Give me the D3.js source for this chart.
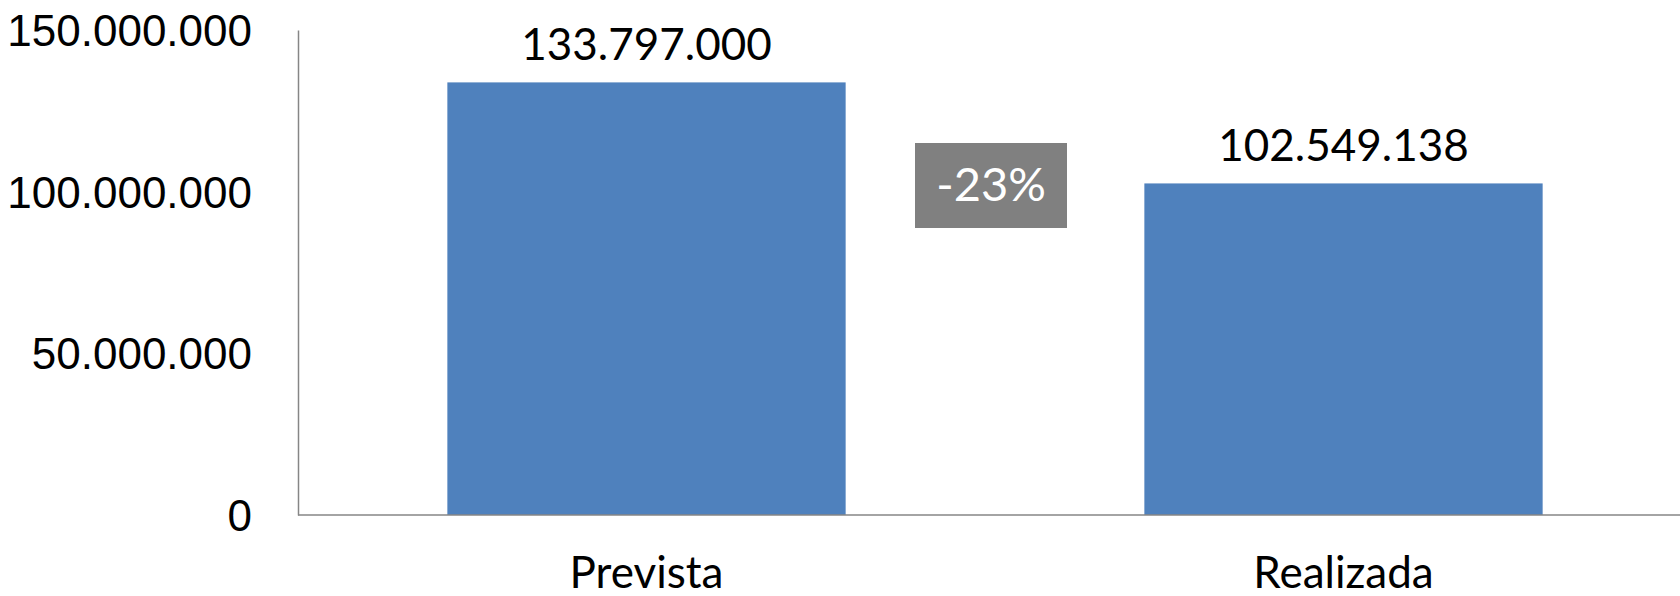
<!DOCTYPE html>
<html>
<head>
<meta charset="utf-8">
<script src="https://cdn.jsdelivr.net/npm/d3@7"></script>
<style>
  body { margin: 0; background: #fff; }
  svg { display: block; font-family: Lato, "Open Sans", sans-serif; }
</style>
</head>
<body>
<div id="chart"></div>
<script>
const categories = ["Prevista", "Realizada"];
const values = [133797000, 102549138];
const yTicks = [0, 50000000, 100000000, 150000000];
const changeLabel = "-23%";

const width = 1680,
  height = 596,
  margin = { top: 30, right: -12, bottom: 81, left: 298 };

const fmt = d3.formatLocale({ decimal: ",", thousands: ".", grouping: [3], currency: ["", ""] }).format(",d");

// scales
let xScale = d3.scaleBand()
  .domain(categories)
  .range([margin.left, width - margin.right])
  .paddingInner(0.75 / 1.75)
  .paddingOuter(0.75 / 1.75 / 2);

let yScale = d3.scaleLinear()
  .domain([0, 150000000])
  .range([height - margin.bottom, margin.top]);

let svg = d3.select("#chart")
  .append("svg")
  .attr("width", width)
  .attr("height", height);

// bars
svg.selectAll("rect.bar")
  .data(values)
  .enter().append("rect")
  .attr("class", "bar")
  .attr("x", (d, i) => xScale(categories[i]))
  .attr("y", d => yScale(d))
  .attr("width", xScale.bandwidth())
  .attr("height", d => yScale(0) - yScale(d))
  .attr("fill", "#4F81BD");

// y axis
let yAxis = svg.append("g")
  .attr("transform", "translate(" + margin.left + ",0)")
  .call(d3.axisLeft(yScale).tickValues(yTicks).tickFormat(fmt).tickSize(0).tickPadding(46));
yAxis.select(".domain").attr("stroke", "#868686").attr("stroke-width", 1.5);
yAxis.selectAll("text")
  .attr("fill", "#000")
  .style("font-size", "44px")
  .attr("dy", "0.35em");

// x axis line
svg.append("line")
  .attr("x1", margin.left)
  .attr("x2", width)
  .attr("y1", yScale(0))
  .attr("y2", yScale(0))
  .attr("stroke", "#868686")
  .attr("stroke-width", 1.5);

// category labels
svg.selectAll("text.cat")
  .data(categories)
  .enter().append("text")
  .attr("class", "cat")
  .attr("x", d => xScale(d) + xScale.bandwidth() / 2)
  .attr("y", 588)
  .attr("text-anchor", "middle")
  .style("font-size", "44px")
  .text(d => d);

// value labels
svg.selectAll("text.val")
  .data(values)
  .enter().append("text")
  .attr("class", "val")
  .attr("x", (d, i) => xScale(categories[i]) + xScale.bandwidth() / 2)
  .attr("y", d => yScale(d) - 22)
  .attr("text-anchor", "middle")
  .style("font-size", "44px")
  .text(d => fmt(d));

// change box
let bx = (xScale(categories[0]) + xScale.bandwidth() + xScale(categories[1])) / 2 - 4;
let box = svg.append("g");
box.append("rect")
  .attr("x", bx - 76)
  .attr("y", 143)
  .attr("width", 152)
  .attr("height", 85)
  .attr("fill", "#808080");
box.append("text")
  .attr("x", bx)
  .attr("y", 185)
  .attr("dy", "0.35em")
  .attr("text-anchor", "middle")
  .attr("fill", "#fff")
  .style("font-size", "47px")
  .text(changeLabel);
</script>
</body>
</html>
